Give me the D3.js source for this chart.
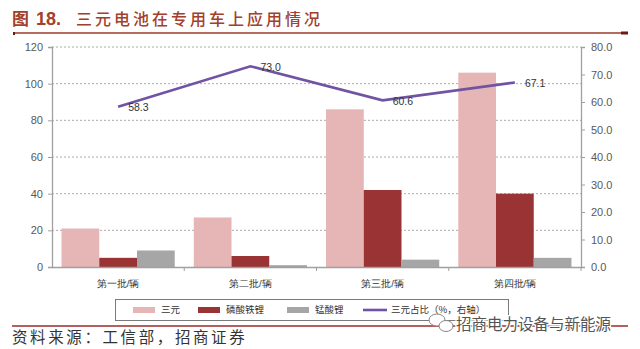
<!DOCTYPE html>
<html>
<head>
<meta charset="utf-8">
<script src="https://cdn.jsdelivr.net/npm/d3@7/dist/d3.min.js"></script>
<style>
  html, body { margin: 0; padding: 0; background: #fff; }
  svg { display: block; font-family: "Noto Sans CJK SC", "Noto Sans", sans-serif; }
</style>
</head>
<body>
<svg id="chart" width="640" height="349"></svg>
<script>
// Batches of special-purpose vehicle catalogue
const categories = ["第一批/辆", "第二批/辆", "第三批/辆", "第四批/辆"];
const ternary = [21, 27, 86, 106];        // 三元
const lfp = [5, 6, 42, 40];               // 磷酸铁锂
const lmo = [9, 1, 4, 5];                 // 锰酸锂
const ternaryShare = [58.3, 73.0, 60.6, 67.1]; // 三元占比（%，右轴）
const leftTicks = [0, 20, 40, 60, 80, 100, 120];
const rightTicks = [0, 10, 20, 30, 40, 50, 60, 70, 80];

const barSeries = [
  { name: "三元", values: ternary, color: "#e6b5b5" },
  { name: "磷酸铁锂", values: lfp, color: "#9a3333" },
  { name: "锰酸锂", values: lmo, color: "#a6a6a6" }
];
const lineColor = "#7153a3";

const svg = d3.select("#chart");
const plot = { left: 52, right: 581, top: 47, bottom: 267 };

// Header
svg.append("text").attr("x", 12).attr("y", 25)
  .attr("fill", "#a3402b").attr("font-size", 17).attr("font-weight", 700)
  .text("图");
svg.append("text").attr("x", 36).attr("y", 25)
  .attr("fill", "#a3402b").attr("font-size", 18).attr("font-weight", 700)
  .attr("font-family", "Liberation Sans, Arial, sans-serif")
  .text("18.");
svg.append("text").attr("x", 76).attr("y", 25)
  .attr("fill", "#a3402b").attr("font-size", 16).attr("font-weight", 500)
  .attr("letter-spacing", 3)
  .text("三元电池在专用车上应用情况");
svg.append("line").attr("x1", 13).attr("x2", 628).attr("y1", 33).attr("y2", 33)
  .attr("stroke", "#9c3b2b").attr("stroke-width", 1.5);
svg.append("rect").attr("x", 621).attr("y", 31.5).attr("width", 7).attr("height", 3).attr("fill", "#6b1a14");
svg.append("rect").attr("x", 13).attr("y", 32).attr("width", 2).attr("height", 3).attr("fill", "#6b1a14");

// Scales
const x0 = d3.scaleBand().domain(categories).range([plot.left, plot.right]).paddingInner(0.144).paddingOuter(0.072);
const x1 = d3.scaleBand().domain(barSeries.map(s => s.name)).range([0, x0.bandwidth()]);
const yL = d3.scaleLinear().domain([0, 120]).range([plot.bottom, plot.top]);
const yR = d3.scaleLinear().domain([0, 80]).range([plot.bottom, plot.top]);
const xBand = d3.scaleBand().domain(categories).range([plot.left, plot.right]);

// Gridlines
svg.append("g").selectAll("line").data(leftTicks.filter(t => t > 0)).join("line")
  .attr("x1", plot.left).attr("x2", plot.right)
  .attr("y1", d => yL(d)).attr("y2", d => yL(d))
  .attr("stroke", "#aaaaaa").attr("stroke-width", 1).attr("stroke-dasharray", "2,2");

// Bars
barSeries.forEach(s => {
  svg.append("g").selectAll("rect").data(s.values).join("rect")
    .attr("x", (d, i) => x0(categories[i]) + x1(s.name))
    .attr("y", d => yL(d))
    .attr("width", x1.bandwidth())
    .attr("height", d => plot.bottom - yL(d))
    .attr("fill", s.color);
});

// Axes
const axisColor = "#a0a0a0";
const gL = svg.append("g").attr("transform", `translate(${plot.left},0)`)
  .call(d3.axisLeft(yL).tickValues(leftTicks).tickSize(4).tickPadding(5));
const gR = svg.append("g").attr("transform", `translate(${plot.right},0)`)
  .call(d3.axisRight(yR).tickValues(rightTicks).tickSize(4).tickPadding(6).tickFormat(d3.format(".1f")));
[gL, gR].forEach(g => {
  g.select(".domain").attr("stroke", axisColor).attr("stroke-width", 1.3);
  g.selectAll(".tick line").attr("stroke", axisColor);
  g.selectAll(".tick text").attr("fill", "#595959").attr("font-size", 11)
    .attr("font-family", "Liberation Sans, Arial, sans-serif");
});

// Category axis
const gX = svg.append("g").attr("transform", `translate(0,${plot.bottom})`)
  .call(d3.axisBottom(xBand).tickSize(0).tickPadding(13));
gX.select(".domain").attr("stroke", axisColor).attr("stroke-width", 1.3);
gX.selectAll(".tick text").attr("fill", "#333").attr("font-size", 9.5);
svg.append("g").selectAll("line").data(categories).join("line")
  .attr("x1", d => xBand(d) + xBand.bandwidth())
  .attr("x2", d => xBand(d) + xBand.bandwidth())
  .attr("y1", plot.bottom).attr("y2", plot.bottom + 4)
  .attr("stroke", axisColor);

// Share line on right axis
const cx = c => xBand(c) + xBand.bandwidth() / 2;
const line = d3.line().x((d, i) => cx(categories[i])).y(d => yR(d));
svg.append("path").datum(ternaryShare).attr("d", line)
  .attr("fill", "none").attr("stroke", lineColor).attr("stroke-width", 2.6);
svg.append("g").selectAll("text").data(ternaryShare).join("text")
  .attr("x", (d, i) => cx(categories[i]) + 10)
  .attr("y", d => yR(d) + 4.5)
  .attr("font-size", 10.5).attr("fill", "#333")
  .attr("font-family", "Liberation Sans, Arial, sans-serif")
  .text(d => d.toFixed(1));

// Legend
const leg = svg.append("g");
leg.append("rect").attr("x", 115.5).attr("y", 299.5).attr("width", 393).attr("height", 21)
  .attr("fill", "#fff").attr("stroke", "#7a7a7a").attr("stroke-width", 1);
const legItems = [
  { name: "三元", color: barSeries[0].color, x: 133, type: "rect" },
  { name: "磷酸铁锂", color: barSeries[1].color, x: 198, type: "rect" },
  { name: "锰酸锂", color: barSeries[2].color, x: 287, type: "rect" },
  { name: "三元占比（%，右轴）", color: lineColor, x: 363, type: "line" }
];
legItems.forEach(it => {
  if (it.type === "rect") {
    leg.append("rect").attr("x", it.x).attr("y", 307).attr("width", 22).attr("height", 6).attr("fill", it.color);
  } else {
    leg.append("line").attr("x1", it.x).attr("x2", it.x + 24).attr("y1", 310).attr("y2", 310)
      .attr("stroke", it.color).attr("stroke-width", 2.6);
  }
  leg.append("text").attr("x", it.x + 28).attr("y", 313)
    .attr("font-size", 9.5).attr("fill", "#333").text(it.name);
});

// Footer
svg.append("line").attr("x1", 12).attr("x2", 628).attr("y1", 326).attr("y2", 326)
  .attr("stroke", "#9c2b2b").attr("stroke-width", 1.5);
svg.append("text").attr("x", 12).attr("y", 343)
  .attr("font-size", 15.5).attr("fill", "#333").attr("letter-spacing", 2.6)
  .text("资料来源：工信部，招商证券");

// Account mark
const wm = svg.append("g");
wm.append("ellipse").attr("cx", 437).attr("cy", 320).attr("rx", 8).attr("ry", 6)
  .attr("fill", "#fff").attr("stroke", "#888").attr("stroke-width", 1);
wm.append("ellipse").attr("cx", 446).attr("cy", 326).attr("rx", 7).attr("ry", 5.5)
  .attr("fill", "#fff").attr("stroke", "#888").attr("stroke-width", 1);
wm.append("text").attr("x", 456).attr("y", 330)
  .attr("font-size", 15.5).attr("fill", "#555")
  .attr("stroke", "#fff").attr("stroke-width", 2.5).attr("paint-order", "stroke")
  .text("招商电力设备与新能源");
</script>
</body>
</html>
